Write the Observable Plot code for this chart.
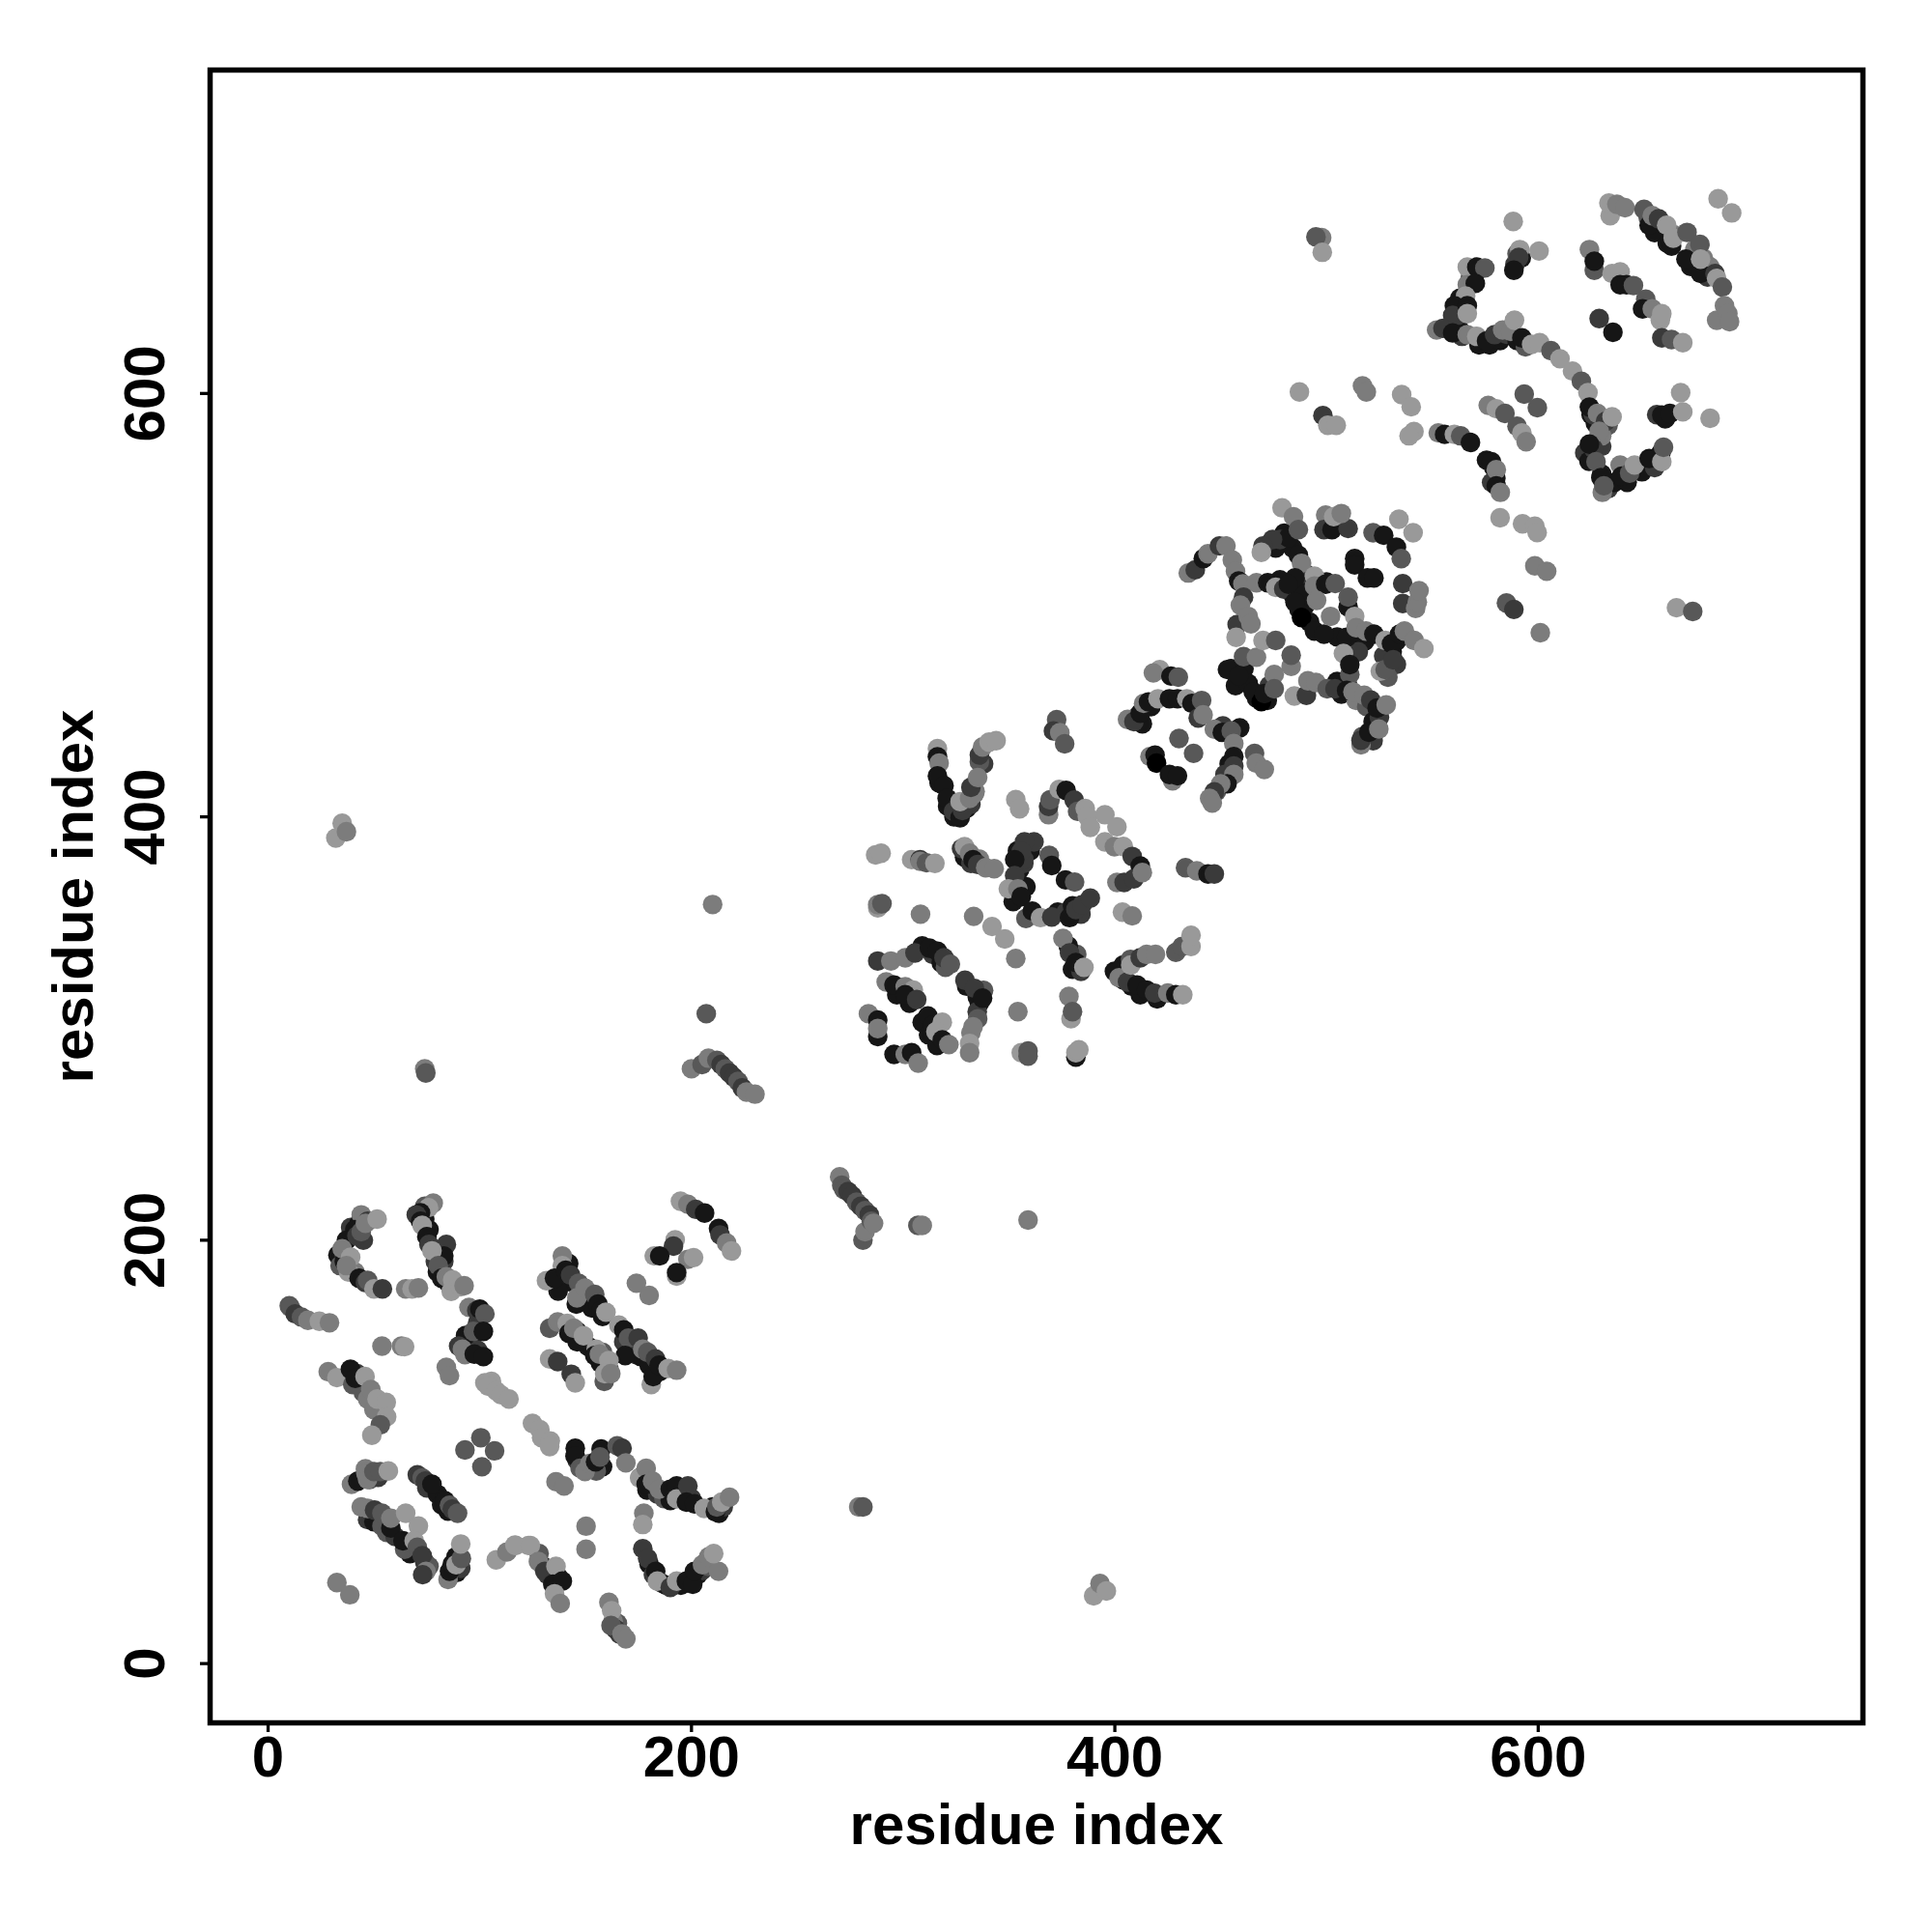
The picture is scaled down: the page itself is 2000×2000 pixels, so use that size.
<!DOCTYPE html>
<html><head><meta charset="utf-8">
<script src="https://cdn.jsdelivr.net/npm/d3@7"></script>
<script src="https://cdn.jsdelivr.net/npm/@observablehq/plot@0.6"></script>
<style>html,body{margin:0;padding:0;background:#fff}</style></head>
<body><div id="chart"></div>
<script>
const shades=["#000","#161616","#3a3a3a","#585858","#7c7c7c","#999999"];
const axisTicks=[0,200,400,600];
const axisTitle="residue index";
// [residue i, residue j, shade class]
const strandsUnder=[[83,190,2],[80,185,1],[79,190,2],[76,205,1],[74,210,1],[74,216,3],[39,206,2],[43,208,1],[45,200,2],[33,193,1],[34,188,3],[41,185,4],[88,178,2],[85,180,1],[96,153,2],[93,151,1],[96,150,1],[99,161,2],[99,148,2],[43,133,1],[42,137,2],[45,128,3],[47,125,4],[50,120,4],
[48,87,3],[46,92,4],[52,88,2],[75,83,2],[80,80,1],[82,75,1],[85,72,1],[47,68,2],[50,67,1],[56,62,3],[60,60,2],[67,52,1],[74,48,2],[76,46,3],[89,43,1],[91,45,2],
[142,189,1],[144,180,1],[148,176,2],[152,172,3],[153,168,1],[158,164,1],[168,152,2],[172,150,1],[174,146,2],[176,145,1],[180,141,1],[185,138,1],[137,176,1],[146,157,1],[146,152,1],[151,150,1],[158,147,3],[157,142,1],[161,139,3],
[176,88,1],[179,82,1],[184,80,2],[187,78,3],[190,77,1],[195,80,1],[200,78,2],[210,74,1],[213,71,1],[215,74,2],[180,47,1],[182,42,2],[186,38,2],[188,37,1],[195,37,1],[203,42,1],[205,44,2],[207,48,1],[208,46,3],[146,96,2],[148,93,1],[150,92,3],[158,93,1],[155,91,3],[128,52,3],[130,46,1],[132,42,2],[137,41,1],[165,19,3],[166,14,2],[163,20,4],
[317,416,1],[321,405,1],[324,400,1],[330,404,1],[332,406,2],[334,412,4],[338,425,2],[336,426,3],[309,339,1],[314,335,2],[318,331,1],[320,329,3],[330,320,1],[335,315,1],[336,312,1],[338,318,3],[335,308,2],[332,298,4],[297,316,1],[303,312,1],[309,303,1],[312,297,1],[316,292,1],
[355,375,1],[357,378,2],[358,367,1],[352,360,1],[358,352,3],[373,355,1],[377,355,2],[384,354,2],[380,358,1],[354,384,1],[360,384,1],[357,380,2],[382,335,3],[378,339,1],[380,328,1],[384,327,2],[329,381,1],[332,378,2],[336,380,4],[404,330,1],[404,323,1],[408,320,1],[412,316,1],[420,314,1],
[500,511,1],[487,508,1],[490,515,2],[484,505,1],[490,500,1],[487,498,1],[492,492,1],[505,485,1],[512,481,1],[518,483,1],[515,478,2],[531,478,1],[533,483,1],[527,476,2],[533,472,2],[529,466,3],[476,527,1],[480,534,1],[484,527,1],[478,531,2],[455,470,1],[457,462,1],[461,470,1],[463,463,1],[467,456,1],[472,455,1],[473,462,2],[505,464,1],[510,462,1],[507,458,1],[514,455,4],[519,452,3],[522,445,1],[525,447,2],[517,438,3],[522,436,2],[480,508,2],[478,512,1],[488,505,1],[459,442,1],[451,443,2],[454,425,1],[452,420,2],[448,412,3],[410,447,2],[413,444,1],[417,452,1],
[563,645,1],[560,633,1],[563,630,1],[564,627,2],[572,623,1],[577,623,1],[582,625,1],[585,628,2],[587,631,3],[590,625,1],[594,622,3],[625,590,1],[627,586,1],[628,578,1],[630,575,2],[622,572,2],[624,568,1],[630,562,1],[633,555,2],[636,558,1],[642,558,1],[649,563,1],[655,565,2],[658,572,1],[570,656,1],[568,655,3],[562,637,2],[626,590,2],[633,585,3],[630,580,4],[626,574,2],[592,664,1],[589,661,2],[590,666,3],[652,683,3],[655,676,1],[661,671,1],[664,675,4],[672,660,1],[680,655,2],[681,660,4],[674,668,4],[678,664,4],[579,565,1],[580,560,1],[578,558,2],[656,590,2],[660,588,1]];
const blockA=[[44,212,4],[41,205,1],[37,200,1],[42,202,2],[47,209,2],[44,204,3],[36,193,2],[36,190,1],[35,196,4],[39,192,5],[38,185,5],[37,188,4],[43,182,1],[46,180,2],[47,181,3],[50,177,5],[46,208,4],[51.5,210,5],[54,177,2],[65,177,4],[68,177,5],[71,177.5,4],
[78,217.5,4],[75.8,215.4,5],[72,213,1],[70,212,2],[72,209,1],[72.8,207,5],[75,201.7,1],[76,198,2],[84.2,198,2],[83,192.6,1],[77.4,195,5],[80.4,188,3],[82,182,1],[84.2,182.7,4],[87.2,181.2,5],[86.5,175.9,5],[91,178,5],[92.6,178.5,4],[94.9,168.3,4],[98.6,166.8,2],[100,167.5,1],[102.4,165.2,3],[93.3,155,1],[97,156.9,3],[101.7,156.9,1],[90,150,2],[91.8,148.5,4],[93,146,4],[97.4,146.2,1],[101.7,145,1],[84.2,140,4],[85.7,136,4],[102.4,132.6,5],[105.5,133.3,5],[104,131,5],[107.8,128.8,5],[110,127,5],[113.8,125,5],
[10.5,168.3,4],[10,169,3],[12.8,165.2,2],[15.8,163.7,3],[18.8,162.2,4],[24.2,161.7,5],[29,161,4],[53.8,150,4],[63,150,4],[64.5,149.7,5],
[28.4,137.9,4],[32.5,135.1,5],[38.9,139,1],[40,131.8,3],[41.2,134.8,1],[45.8,135.6,5],[48.5,129.5,4],[51.5,125,5],[55.8,123.4,5],[56,116.6,5],[53,112.8,3],[49,107.9,5],
[100.5,106.7,3],[93,100.9,3],[107,100.5,3],[101,93,3],
[39.4,84.7,4],[42.4,86.2,1],[46.2,90,4],[47,87,4],[50,90.7,3],[53,90.7,3],[56.8,91,5],
[70.5,89.2,2],[72.8,87.7,3],[74.3,86.2,2],[77.4,84.7,1],[83.5,77,1],[85.7,74.8,3],[87,73,2],[89.5,71,3],
[44,74,4],[47,73.3,4],[50.3,72.5,2],[53.8,65,3],[53.8,71,3],[58,64,1],[58,68.7,4],[65,71,5],[71,65,5],[64.5,54,3],[63.7,58,1],[69,58,5],[70.5,55,3],[72.8,51,2],[74.6,43.6,4],[73,42,2],
[85,39.8,4],[85.7,43.6,1],[87,47,1],[88.8,50.5,1],[88.8,46.7,5],[91.3,49.7,3],[91,56.5,5],[32.5,38.3,4],[38.6,32.5,4]];
const blockB=[[107.8,49,5],[112.8,52.7,4],[116.6,56,5],[123,55.8,5],[117,55.8,5],[123.9,55.8,5],[127.7,48.2,4],[130.7,43.6,2],[136,45.9,5],[134.5,37.5,1],[139,39,1],[135.3,33,5],[138,28.4,4],
[194.8,218.4,5],[198.3,217,4],[202,214.6,2],[206.2,212.8,1],[212.8,205.5,1],[213.5,202.5,2],[216.6,198.7,4],[218.9,194.9,5],[192.3,200.2,5],[191.5,197.2,2],[198.3,191,4],[201,191.8,5],[182.4,192.6,5],[185,192.6,1],[193,183,5],[193,184.7,1],[174,179.7,4],[180,173.9,4],
[139,192.6,4],[139,188,5],[131.5,180.9,5],[135.3,182,1],[140.6,185.8,1],[142.9,183.5,2],[146.7,179.7,3],[145.6,169.8,1],[145.9,172.8,4],[149.7,177.4,4],[154.3,174.4,3],[155.8,169.8,1],[157.3,166.8,1],[159.6,166,5],
[165.7,159.9,5],[168,157.6,1],[170.2,153.8,3],[174.8,153.8,2],[168.7,145.5,1],[177,148.5,4],[179.3,147,3],[183,144,2],[181,131.8,5],[181.9,135.6,1],[184.7,141,1],[189,139.4,5],[193,138.6,4],
[133,158.4,3],[136.8,161.4,4],[141.3,160.7,5],[142.1,156,1],[144.4,158.4,4],[149,154.9,5],[155,148.5,5],[154.3,145.5,1],[156.5,146.2,4],[161,143.2,5],[158.8,133.3,3],[159,137,5],[161.9,137,4],
[133,143.9,5],[136.8,142.7,2],[143.2,136.7,2],[145.1,132.6,5],
[124.9,113.5,5],[128.4,110.5,5],[129.2,106.7,5],[133.3,105.2,5],[133,102.5,5],
[145.1,101.7,1],[145,98,1],[147.4,92.3,3],[149.7,90.7,4],[152,94.5,4],[154.7,95.3,1],[157.3,101.4,1],[156.8,97.6,3],[164.9,102.9,3],[167.2,101.7,2],[169,94.8,4],
[175.5,87.7,5],[178.6,92.3,4],[178.6,84.7,1],[181.6,86.2,4],[184.7,82.4,4],[190,82.4,1],[193,83.9,1],[193,77.8,5],[198.3,83.9,2],[197.6,76.3,1],[201.4,75.5,1],[206,73.3,5],[211.3,71.7,1],[212,74,3],[214.3,76.3,5],[218,78.6,4],[136,85.9,4],[139.8,83.9,4],
[150.2,64.9,4],[150.2,54,4],[177.5,71,4],[177,65.7,5],
[177,54.3,2],[179.3,49.7,2],[183.1,43.6,1],[183.9,39,5],[190,36,2],[193,39,5],[197.6,39,1],[200.6,37.5,1],[201.4,43.6,1],[205.2,46.7,4],[208.2,50.5,4],[212.8,43.6,4],[210.5,52,5],
[161,28.9,4],[162.3,25,5],[164.1,16.3,2],[162,18,3],[167.2,14,4],[169,11.7,4]];
const outliers=[[279,74,4],[281,74,3],[390,32,5],[393,37.8,4],[396,34.3,5],[359,209.5,4],[307,207,3],[309,207,4],[32,390,5],[35,397,5],[37,393,4],[74,281,4],[74.5,279,3],[210,358.6,4],[207,307,3],
[497.7,673.6,4],[495,674,3],[498,666.7,5],[487.2,600.7,5],[498.3,589.6,2],[500.6,585,5],[504.6,585,5],[517,603.6,4],[518.8,600.7,4],[535.5,599.5,5],[540,593.7,5],[541.3,582,5],[539,580,5],[582,541.3,5],[592.6,538.4,5],[598.4,537.3,5],[599.5,534.3,5],[598.4,518.6,4],[604,516,4],[585,501,3],[588.5,498,2],[601,487,4],[665.3,498.8,5],[673,497,3]];
const streaks=[[200,281,4],[205,283,3],[208,286,4],[212,285,3],[214,283,2],[216,281,3],[218,279,2],[220,277,2],[222,275,3],[224,272,2],[226,270,4],[230,269,4],
[270,230,4],[271,226,3],[272,224,3],[274,223,2],[276,221,2],[278,218,3],[280,216,2],[282,214,3],[284,212,2],[281,200,3],[282,204,4],[285,209,3],[286,208,4]];
const blockC=[[316.2,432.2,5],[316.2,428.4,1],[317,425.4,4],[316.2,419.3,1],[319.3,414.8,1],[320.8,408.7,1],[323.8,402.6,2],[326.9,399.6,1],[328,403,2],[326.9,407.2,5],[331.4,408.7,4],[333.7,411,4],[332,414,2],[335.2,418.6,4],[336,429.2,2],[337.5,433,4],[340.6,435.3,5],[343.9,436,5],[353.2,408.2,5],[355,403.8,5],
[368.7,401,4],[368.7,404.9,2],[369.4,408,3],[373.7,413,5],[377,412.5,1],[380.8,407.9,2],[382.4,402.6,3],[386,404,5],[387,400.3,5],[388.4,395,5],[395.3,401,5],[401,395.3,5],[395.3,388.2,5],[399.8,385.9,4],[404,386,5],[408.2,381.3,2],[412,376.8,1],[401,369,4],[404.4,369,2],[409,370.7,2],[413,373.7,4],
[287,382,5],[289.6,382.8,5],[304,379.8,5],[308,379.8,2],[308,379,4],[311,378.3,3],[315,378,5],
[327.6,385,2],[329,385.9,5],[331.4,382.8,4],[333,379.8,1],[335.2,377.5,2],[339,376,4],[343,375.5,4],
[361.8,388.2,2],[357.3,388.2,2],[355.8,383.6,2],[352.7,379.8,1],[352.7,372.2,2],[349.7,366,5],[354.2,366,4],[355.8,362.3,1],[361,355.5,1],[364.9,352.4,5],[370.2,352.7,2],[378.6,352.4,1],[381.6,356.2,2],[384.6,358.5,2],[388.4,361.6,2],[369,381.8,3],[370.2,377,1],[376.7,370.2,1],[381,369.2,3],
[288,357,5],[288,358.5,4],[290,359,3],[308.2,354,4],[333.3,353,4],[342,348.2,5],[348,342.3,5],[353.2,333.1,4],
[375.5,342.6,4],[378.6,335.7,2],[381.6,331.2,1],[385.4,328.9,5],
[288,331.9,2],[294.2,331.9,4],[301,333.4,4],[305.6,335.7,2],[312.4,338,1],[316.2,336.5,1],[319.3,333.4,2],[322.3,330.4,3],[329.2,322.8,2],[333.7,319,2],[337.5,314.4,1],[335.2,304.6,3],[333,300.8,4],[331.4,293,5],[331.4,288.6,4],
[292,322,4],[295.7,320.5,1],[301,319.8,4],[304.8,318.2,5],[301,316,1],[306.4,313.7,2],
[311.7,306,1],[314,301.5,1],[318.5,303,5],[315.5,298.5,5],[318.5,294.7,1],[321.6,292.4,4],
[283.6,307,4],[288,304,1],[288,296.2,1],[288,300,4],[295.7,287.8,1],[301,287.8,4],[304,288.6,1],[307.1,283.7,4],
[354.2,308,4],[378.3,315.2,4],[379.3,304.6,5],[380,308,3],[355.8,288.6,5],[359,289.4,3],[359,287,3],[381.6,286.5,1],[381.6,288.6,5],[383,290,5],[403.6,355,5],[408.2,353.2,4],
[372.5,445.9,3],[371,440.6,2],[374,439.8,4],[376.3,434.5,3]];
const blockD=[[399.8,327,1],[402,324,4],[406,322,2],[407.4,332.7,3],[407.5,330,5],[412,333.4,2],[410.5,320.5,1],[415,318.2,1],[415,335,4],[419.2,335,4],[418.8,316.7,2],[425,316.8,4],[428.8,316,1],[432.1,316,5],
[433.4,376,3],[438.7,374.5,4],[444,373,1],[447,373,2],[428.8,336,3],[431.8,338.8,3],[436,338.8,5],[436,344,5],
[421.2,469.5,5],[418.2,468,4],[426.5,466.5,1],[430,466,3],
[406,446,4],[409,445,2],[412,449,1],[413.6,453.6,4],[415.9,454.3,1],[420.4,455.8,5],[425.8,455.8,1],[429.6,455.8,1],[434,455.8,5],[436.4,453.6,1],[441,455,3],[439.4,446.7,2],[441.7,448.2,4],[447,441.4,4],[450.8,439.9,1],[455,440.6,3],[456.2,434.6,4],[456.2,428.5,1],[456.2,424,2],[456.2,420,4],[453,415.6,1],[450,415.6,4],[447,411.8,2],[444.8,408.7,4],[446,406.5,4],
[466,430,3],[466.8,425.4,4],[470.6,422.4,4],[430.3,437,3],[437.2,430,3],
[416.6,428.5,4],[419,429.2,1],[419.7,425.4,0],[427.3,417,4],[425.8,420,1],[429.6,419.4,1],
[434.7,515.2,4],[438,516.7,2],[441.8,522,1],[444,524.3,4],[449.4,528,2],[452.5,528,4],[455.5,521.3,4],[457,516,4],[458.5,511.4,1],[460.5,510,4],[466.9,510.6,4],[472.2,510.6,1],[476,508.4,5],[479.8,507.6,2],[460.8,503.8,2],[459.3,500,4],[457.8,490.9,2],[463,494.7,4],[464.3,491.2,4],[457.3,484.8,5],
[479,546,5],[484.4,541.8,4],[482,531.9,1],[486.7,535.7,3],[474.5,531,2],[470,528,2],[469.2,525,5],[486.7,523.6,1],[488.2,519.8,4],[485.1,512.9,1],[482,509.9,1],[494.3,513.7,5],[494.3,509,4],[499.6,509.9,1],[504.1,510.2,3],[485.1,501.5,1],[495.3,502.3,4],[488.2,494.2,0],[494.3,487.8,1],[498.8,486.3,1],[501.9,494.7,4],[510.2,499.2,1],[510.2,503.8,3],[513.3,494.7,5],
[499.6,542.6,4],[498.8,535.7,2],[502.6,535.7,1],[510.2,536.2,2],[503.4,541.8,5],[507,543.3,4],
[522,534.2,3],[527,533,1],[533,527.4,1],[535.3,522,3],[534.2,540.6,5],[540.9,534.2,5],[513.3,522,1],[513.3,519,1],[519.3,512.9,1],[522.4,512.9,1],[536,510.2,2],[536,500.8,2],[542.1,498.5,4],[542.9,501.5,4],[543.7,506.8,4],
[509.5,484.8,1],[514,489.4,4],[518.6,487.8,4],[522.4,486.3,1],[508,477.2,5],[511,467.3,3],[511,471.9,1],[527.7,483.3,5],[530.7,481.8,1],[534.5,486.3,1],[536.8,487.8,4],[541.4,483.3,4],[546,479.5,5],[525.4,468.8,5],[527.7,469.6,3],[531.5,474.2,2],
[453.2,469.6,1],[458.5,466.6,1],[460.8,475.7,3],[466.9,475.4,4],[465.4,459,1],[469.2,454.4,0],[470.7,458.2,1],[475.3,467.3,4],[475.3,460.5,3],[470,483.3,5],[476,483.3,3],[483.3,471.1,4],[483.3,476.4,3],
[484.8,457.1,5],[490.5,457.4,2],[491.2,464.3,4],[495,463.5,4],[500.3,460.5,3],[504,460.5,2],[509.5,459.7,1],[512.5,459,4],[517.8,457.4,4],[520.9,455.2,2],[523.9,451.4,1],[528.2,452.9,4],[516.3,434,4],[516.3,436.2,2],[520,440,1],[524.7,441.5,4]];
const blockE=[[588.2,681.3,5],[591.3,668,5],[590.8,664.3,2],[588.5,658.2,1],[600.4,667.3,5],
[566.5,659.7,5],[571,659.7,1],[574.8,659.3,3],[566.5,651.4,4],[570.3,652,1],[565.7,646,5],[560.4,641.5,1],[559.6,636.9,2],[566.5,641.5,1],[566.5,637.7,5],[552,630,4],[555,630.8,2],[559.6,628.6,1],[566.5,627.8,4],[571,627,5],[575.6,624.8,1],[579.4,627.8,2],[583.2,630,4],[587,629.3,4],[588.8,634.6,5],[592.3,626.3,1],[596.9,623.2,5],[600.7,624,5],[606,620.2,3],[610.3,616.4,5],[616.2,610.6,5],[620.4,605.8,3],[623.5,600.4,5],[624.2,593.6,1],[628,590.6,4],[631.8,586.8,2],[634.9,589,5],[628.8,582.2,4],[624.2,576.1,1],[627.3,567.8,3],[630.3,553.3,4],[629.6,560.2,1],[631,556.4,3],[638.7,566.2,4],[639.4,560.9,1],[643.2,562.4,3],[645.5,566.2,5],[652.4,569.3,1],[658.4,567.8,5],[659.2,574.6,3],
[658.4,589.8,1],[662.2,590.6,1],[668.3,591.3,5],[667.3,600.4,5],[681.2,588.3,5],
[634,684,5],[633.4,690,5],[637.2,689.4,4],[641,687.8,4],[650,687,3],[652.4,679.5,1],[653.9,684,4],[656.9,682.5,2],[660.7,679.5,5],[663,669.6,1],[663.8,673.4,5],[670.3,676.1,3],[676.4,670.4,3],[669.8,663.5,1],[676.7,656.7,1],[676.7,663.5,5],[683.5,656.7,2],[684.3,654.4,5],[687,650.3,3],[685,692,5],[691.4,685.3,5],
[624.2,668,4],[626.5,658.2,3],[626.5,662.5,1],[634.9,656.7,5],[638.7,657.4,5],[638.7,651.4,1],[641.7,651.4,1],[645,651,3],[650.8,644.5,3],[649.3,640,1],[653.9,640,4],[657.7,634.6,5],[658.4,637.7,5],[658.4,626.3,2],[663,625.5,3],[668.3,624,5],
[628.8,635.4,2],[635.3,628.9,1],[684.3,634.6,4],[688,641.5,4],[689.6,637.7,4],[690.4,633.9,4],
[593.4,599.7,3],[599.6,593.3,3],[576.4,594.4,4],[580.2,592.8,5],[584.3,590.6,3],[590,584.5,3],[592.3,581.4,5],[594.3,577.2,4],
[552.8,581.4,4],[555.8,580.7,1],[560.4,580.7,5],[563.4,580,3],[568,576.9,1],[575.6,568.5,1],[577.9,567.8,1],[580.2,564,4],[580.2,556.4,1],[582.1,553.3,4]];
const contacts=[...strandsUnder,...blockA,...blockB,...outliers,...streaks,...blockC,...blockD,...blockE];
const chart=Plot.plot({
  width:2000,height:2000,marginLeft:217,marginRight:72,marginTop:72,marginBottom:217,
  x:{domain:[-27.4,753.4],label:null},
  y:{domain:[-28,752.8],label:null},
  style:{background:"#fff",color:"#000",fontFamily:"'Liberation Sans',Arial,sans-serif",fontWeight:"bold",overflow:"visible"},
  marks:[
    Plot.dot(contacts,{x:d=>d[0],y:d=>d[1],r:10.2,fill:d=>shades[d[2]],stroke:"none"}),
    Plot.frame({stroke:"#000",strokeWidth:5.5}),
    Plot.axisX({ticks:axisTicks,tickSize:10,tickPadding:3,fontSize:60,strokeWidth:3.3,label:axisTitle,labelAnchor:"center",labelArrow:"none",labelOffset:125}),
    Plot.axisY({ticks:axisTicks,tickSize:10,tickPadding:38,fontSize:60,strokeWidth:3.3,tickRotate:-90,label:axisTitle,labelAnchor:"center",labelArrow:"none",labelOffset:164})
  ]
});
document.getElementById("chart").append(chart);
</script></body></html>
